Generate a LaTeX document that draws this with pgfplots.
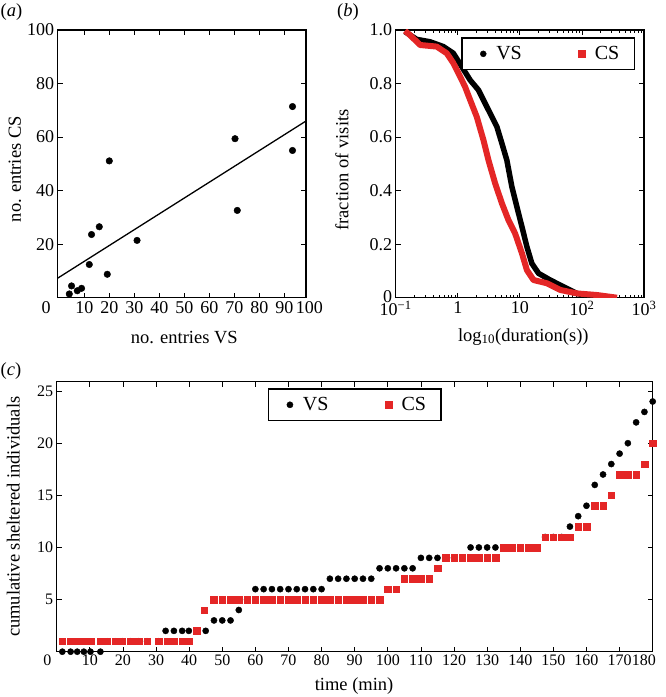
\documentclass[border=0pt]{standalone}
\usepackage{fontspec}
\setmainfont{Liberation Serif}
\usepackage{pgfplots}
\pgfplotsset{compat=1.18}
\definecolor{csred}{RGB}{228,38,38}
\pgfplotsset{
  panel/.style={
    scale only axis, anchor=south west,
    tick align=inside,
    axis line style={line width=1.4pt},
    every tick/.style={black, line width=0.8pt},
    major tick length=5pt, minor tick length=3pt,
    /pgf/number format/assume math mode=true,
    tick label style={font=\fontsize{18}{22}\selectfont},
    label style={font=\fontsize{18.5}{22}\selectfont},
    legend columns=2,
    legend cell align=left,
    legend style={draw=black, line width=1.5pt, inner xsep=13pt, inner ysep=6.5pt,
      font=\fontsize{20}{24}\selectfont, nodes={inner sep=2pt},
      /tikz/every even column/.append style={column sep=49.5pt}},
    legend image code/.code={\path[draw=none,fill=none] (-8.5pt,-1pt) rectangle (11pt,1pt);
      \draw[line width=0.4pt,##1] plot coordinates {(0pt,0pt)};},
  }
}
\begin{document}
\begin{tikzpicture}[font=\fontsize{18.5}{22}\selectfont]
\useasboundingbox (0,0) rectangle (665pt,697pt);

% ---------------- (a)
\begin{axis}[panel, at={(57.7pt,399.3pt)}, width=248.3pt, height=267.7pt,
  xmin=-0.64, xmax=98.7, ymin=0, ymax=100,
  xtick={10,20,...,90}, ytick={20,40,60,80,100},
  xlabel={no. entries VS}, ylabel={no. entries CS},
  x label style={at={(axis description cs:0.51,-0.170)}, anchor=base},
  y label style={at={(axis description cs:-0.172,0.48)}, anchor=center},
  after end axis/.code={
    \node[anchor=north, font=\fontsize{18}{22}\selectfont] at (axis cs:-5.3,0) {0};
    \node[anchor=north, font=\fontsize{18}{22}\selectfont] at (axis cs:100,0) {100};
  }]
\addplot[only marks, mark=*, mark size=3.3pt, black] coordinates {
  (4.0,1.4) (4.9,4.4) (7.2,2.6) (8.9,3.5) (12.0,12.4) (12.9,23.6) (16.0,26.5)
  (19.2,8.75) (20.0,51.1) (31.1,21.4) (70.3,59.4) (71.2,32.6) (93.3,71.4) (93.3,55.0)};
\addplot[black, line width=1.3pt] coordinates {(-0.64,7.3) (98.7,66.0)};
\end{axis}

% ---------------- (b)
\begin{axis}[panel, at={(395.7pt,399.3pt)}, width=248.3pt, height=267.7pt,
  xmode=log, xmin=0.1, xmax=1000, ymin=0, ymax=1,
  xtick={0.1,1,10,100,1000},
  xticklabels={10\textsuperscript{−1},1,10,10\textsuperscript{2},10\textsuperscript{3}},
  minor xtick={0.2,0.3,0.4,0.5,0.6,0.7,0.8,0.9,2,3,4,5,6,7,8,9,20,30,40,50,60,70,80,90,200,300,400,500,600,700,800,900},
  ytick={0,0.2,0.4,0.6,0.8,1}, yticklabels={\raisebox{3pt}{0},0.2,0.4,0.6,0.8,1.0},
  xlabel={log\textsubscript{10}(duration(s))}, ylabel={fraction of visits},
  x label style={at={(axis description cs:0.514,-0.163)}, anchor=base},
  y label style={at={(axis description cs:-0.216,0.477)}, anchor=center},
  legend style={at={(0.964,0.973)}, anchor=north east},
  legend entries={VS,CS}]
\addlegendimage{only marks, mark=*, mark size=3pt, black}
\addlegendimage{only marks, mark=square*, mark size=3.2pt, csred}
\addplot[black, line width=5.5pt, line join=round, forget plot] coordinates {
  (0.141,0.994) (0.218,0.965) (0.357,0.956) (0.586,0.938) (0.849,0.913) (1.16,0.863)
  (1.58,0.813) (2.15,0.776) (2.94,0.713) (4.26,0.639) (5.13,0.577) (6.17,0.514)
  (7.43,0.415) (8.95,0.34) (10.8,0.265) (13.0,0.19) (15.6,0.128) (20.0,0.091)
  (30.8,0.066) (50.5,0.041) (83,0.016) (136,0.004) (251,0.0)};
\addplot[csred, line width=6pt, line join=round, forget plot] coordinates {
  (0.141,0.997) (0.170,0.981) (0.247,0.944) (0.458,0.938) (0.665,0.913) (0.849,0.876)
  (1.09,0.826) (1.31,0.788) (1.58,0.739) (2.02,0.676) (2.59,0.589) (3.12,0.514)
  (4.0,0.427) (5.13,0.353) (6.55,0.29) (8.39,0.24) (10.8,0.166) (13.0,0.103)
  (16.6,0.066) (27.2,0.054) (44.7,0.029) (83,0.016) (174,0.01) (367,0.0)};
\end{axis}

% ---------------- (c)
\begin{axis}[panel, at={(56.7pt,45.3pt)}, width=596pt, height=270pt,
  xmin=0, xmax=180, ymin=0, ymax=25.9,
  xtick={10,20,...,170}, ytick={5,10,...,25},
  tick label style={font=\fontsize{16}{20}\selectfont},
  xlabel={time (min)}, ylabel={cumulative sheltered individuals},
  x label style={at={(axis description cs:0.499,-0.142)}, anchor=base},
  y label style={at={(axis description cs:-0.0727,0.5)}, anchor=center},
  legend style={at={(0.5,0.976)}, anchor=north},
  after end axis/.code={
    \node[anchor=north, font=\fontsize{16}{20}\selectfont] at (axis cs:-2.8,0) {0};
    \node[anchor=north east, font=\fontsize{16}{20}\selectfont, inner xsep=0pt] at (axis cs:181,0) {180};
  }]
\addplot[only marks, mark=*, mark size=3.1pt, black] coordinates {
  (1.7,0)(4.2,0)(6.2,0)(8.2,0)(10.2,0)(13.2,0)
  (15.3,1)(17.8,1)(19.8,1)(22.3,1)(24.8,1)(27.3,1)(30.8,1)
  (32.9,2)(35.4,2)(37.9,2)(39.9,2)(42.5,2)(45,2)
  (47.5,3)(50,3)(52.5,3)
  (55,4)(57.5,5)
  (60,6)(62.5,6)(65,6)(67.5,6)(70,6)(72.5,6)(75,6)(77.5,6)(80,6)
  (82.5,7)(85,7)(87.5,7)(90,7)(92.5,7)(95,7)
  (97.5,8)(100,8)(102.5,8)(105,8)(107.5,8)
  (110,9)(112.5,9)(115,9)(117.5,9)(120,9)(122.5,9)
  (125,10)(127.5,10)(130,10)(132.5,10)(135,10)(137.5,10)(140,10)(142.5,10)(145,10)
  (147.5,11)(150,11)(152.5,11)
  (155,12)(157.5,13)(160,14)(162.5,16)(165,17)(167.5,18)(170,19)(172.5,20)
  (175,22)(177.5,23)(180,24)};
\addplot[only marks, mark=square*, mark size=3.3pt, csred] coordinates {
  (1.7,1)(4.2,1)(6.2,1)(8.2,1)(10.2,1)(13.2,1)(15.3,1)(17.8,1)(19.8,1)(22.3,1)
  (24.8,1)(27.3,1)(30.8,1)(33.4,1)(35.4,1)(37.9,1)(39.9,1)
  (42.3,2)(44.6,4)
  (47.5,5)(50,5)(52.5,5)(55,5)(57.5,5)(60,5)(62.5,5)(65,5)(67.5,5)(70,5)(72.5,5)
  (75,5)(77.5,5)(80,5)(82.5,5)(85,5)(87.5,5)(90,5)(92.5,5)(95,5)(97.5,5)
  (100,6)(102.5,6)
  (105,7)(107.5,7)(110,7)(112.5,7)
  (115,8)
  (117.5,9)(120,9)(122.5,9)(125,9)(127.5,9)(130,9)(132.5,9)
  (135,10)(137.5,10)(140,10)(142.5,10)(145,10)
  (147.5,11)(150,11)(152.5,11)(155,11)
  (157.5,12)(160,12)
  (162.5,14)(165,14)
  (167.5,15)
  (170,17)(172.5,17)(175,17)
  (177.5,18)(180,20)};
\legend{VS,CS}
\end{axis}

\node[anchor=base west, inner sep=0pt] at (0.5pt,680pt) {(\textit{a})};
\node[anchor=base west, inner sep=0pt] at (337pt,680pt) {(\textit{b})};
\node[anchor=base west, inner sep=0pt] at (0.5pt,321pt) {(\textit{c})};
\end{tikzpicture}
\end{document}
